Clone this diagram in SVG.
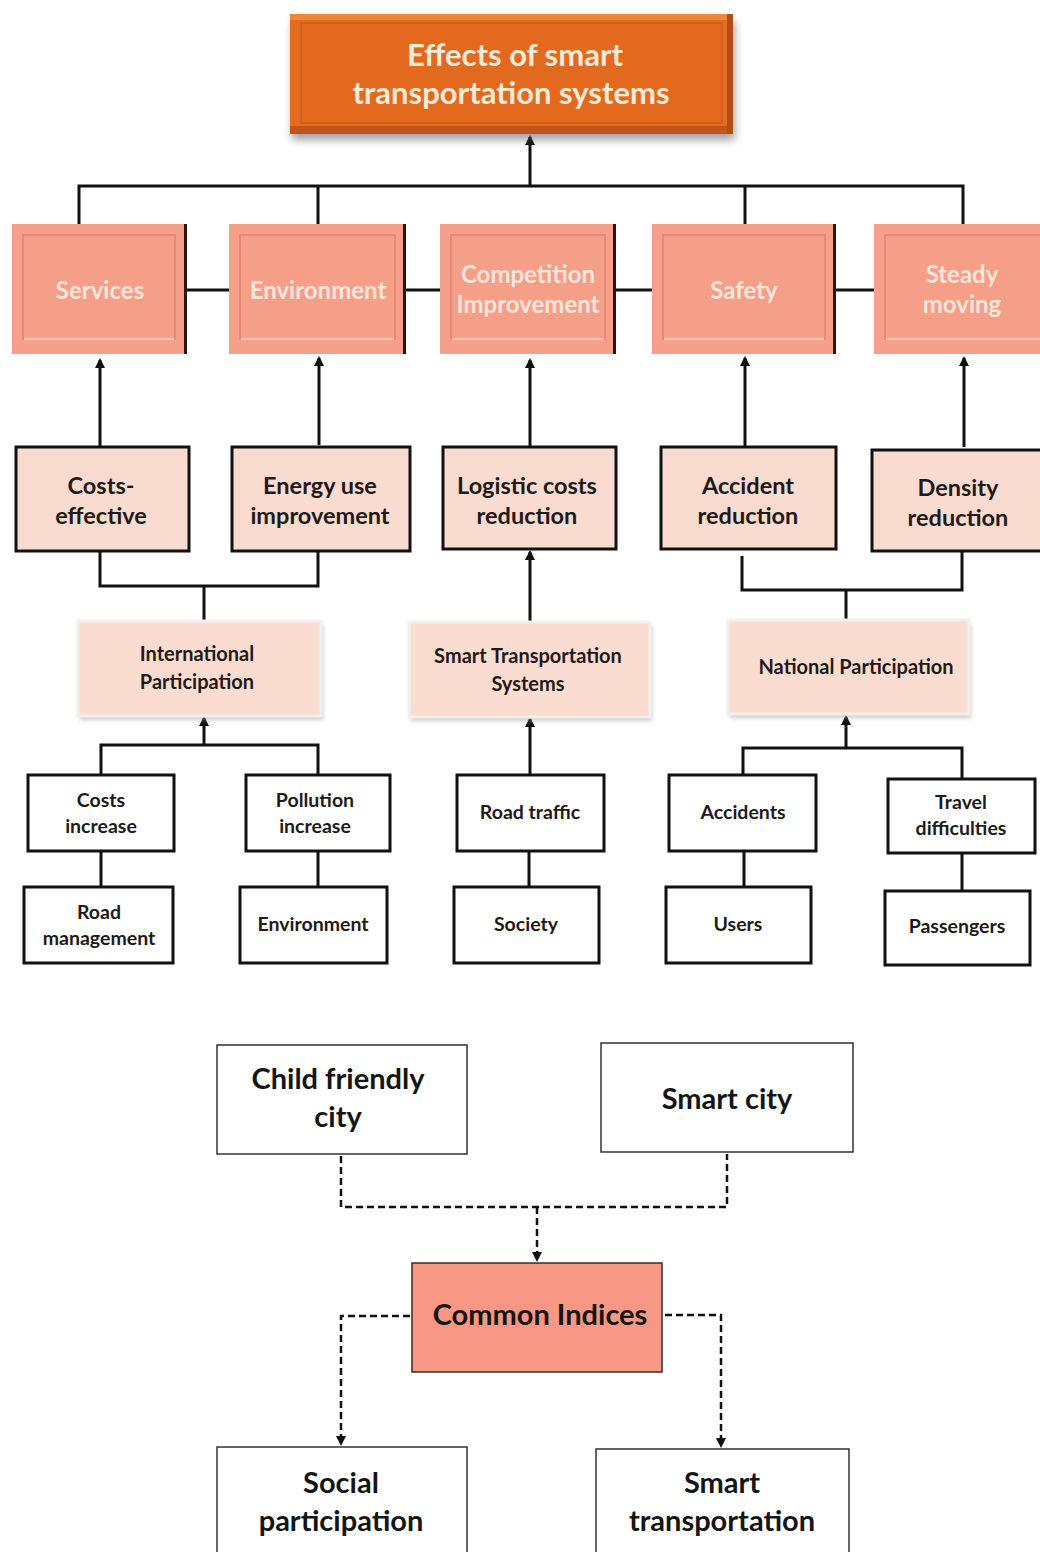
<svg xmlns="http://www.w3.org/2000/svg" width="1040" height="1552" viewBox="0 0 1040 1552">
<style>
text{font-family:Lato,"Open Sans","Liberation Sans",sans-serif;font-weight:bold;text-anchor:middle}
.t1{font-size:31px;fill:#FCEBD9}
.t2{font-size:24px;fill:#FCE6DC}
.t3{font-size:23.5px;fill:#1E1A18}
.t4{font-size:20px;fill:#1E1A18}
.t5{font-size:19.5px;fill:#1E1A18}
.t6{font-size:29px;fill:#151515}
.b2o{fill:#F6A08B}
.b2i{fill:#F59E88;stroke:#E0836D;stroke-width:1.5}
.b3{fill:#FADBCF;stroke:#111;stroke-width:3}
.b4{fill:#FADCD0;stroke:#F2F0EE;stroke-width:3}
.b5{fill:#fff;stroke:#111;stroke-width:3}
.b6{fill:#fff;stroke:#333;stroke-width:1.5}
.ln{fill:none;stroke:#111;stroke-width:3}
.ds{fill:none;stroke:#111;stroke-width:2.5;stroke-dasharray:7 4}
</style>
<defs>
<marker id="ar" markerWidth="10" markerHeight="10" refX="8" refY="5" orient="auto" markerUnits="userSpaceOnUse">
<path d="M0,0 L10,5 L0,10 Z" fill="#111"/>
</marker>
<marker id="ar2" markerWidth="10" markerHeight="10" refX="8" refY="5" orient="auto" markerUnits="userSpaceOnUse">
<path d="M0,0 L10,5 L0,10 Z" fill="#111"/>
</marker>
<filter id="sh" x="-10%" y="-20%" width="120%" height="150%">
<feGaussianBlur stdDeviation="4"/>
</filter>
<filter id="sh2" x="-10%" y="-20%" width="120%" height="140%">
<feGaussianBlur stdDeviation="2"/>
</filter>
</defs>
<rect width="1040" height="1552" fill="#fff"/>

<g id="connectors">
<path class="ln" d="M530,186 V137" marker-end="url(#ar)"/>
<path class="ln" d="M79,224 V186 H963 V224 M318,186 V224 M745,186 V224"/>
<path class="ln" d="M187,290 H229 M406,290 H440 M616,290 H652 M836,290 H874"/>
<path class="ln" d="M100,447 V360" marker-end="url(#ar)"/>
<path class="ln" d="M319,445 V358" marker-end="url(#ar)"/>
<path class="ln" d="M530,447 V360" marker-end="url(#ar)"/>
<path class="ln" d="M745,447 V358" marker-end="url(#ar)"/>
<path class="ln" d="M964,447 V358" marker-end="url(#ar)"/>
<path class="ln" d="M100,551 V586 H318 V551 M204,586 V621"/>
<path class="ln" d="M530,622 V552" marker-end="url(#ar)"/>
<path class="ln" d="M742,556 V590 H962 V551 M846,590 V621"/>
<path class="ln" d="M204,745 V718" marker-end="url(#ar)"/>
<path class="ln" d="M101,775 V745 H318 V775"/>
<path class="ln" d="M530,775 V719" marker-end="url(#ar)"/>
<path class="ln" d="M846,748 V717" marker-end="url(#ar)"/>
<path class="ln" d="M743,775 V748 H962 V779"/>
<path class="ln" d="M101,851 V887 M318,851 V887 M529,851 V887 M744,851 V887 M962,853 V891"/>
<path class="ds" d="M341,1156 V1207 H727 V1154"/>
<path class="ds" d="M537,1207 V1260" marker-end="url(#ar2)"/>
<path class="ds" d="M410,1316 H341 V1444" marker-end="url(#ar2)"/>
<path class="ds" d="M665,1315 H721 V1446" marker-end="url(#ar2)"/>
</g>

<g id="n-top">
<rect x="292" y="22" width="443" height="118" fill="#555" opacity="0.55" filter="url(#sh)"/>
<rect x="290" y="14" width="443" height="120" fill="#E46C1E"/>
<rect x="290" y="14" width="443" height="6" fill="#EE8538"/>
<rect x="290" y="126" width="443" height="8" fill="#C4551A"/>
<rect x="727" y="14" width="6" height="120" fill="#B24D18"/>
<rect x="301" y="23" width="421" height="100" fill="#E2691D" stroke="#C95C1A" stroke-width="1.5"/>
<text class="t1" x="515" y="66">Effects of smart</text>
<text class="t1" x="511" y="104">transportation systems</text>
</g>

<g id="n-services">
<rect class="b2o" x="12" y="224" width="175" height="130"/>
<rect x="184" y="224" width="3" height="130" fill="#2a1510"/>
<rect class="b2i" x="23" y="235" width="152" height="104"/>
<line x1="24" y1="339" x2="174" y2="339" stroke="#FBC3B3" stroke-width="2"/>
<text class="t2" x="100" y="299">Services</text>
</g>
<g id="n-environment">
<rect class="b2o" x="229" y="224" width="177" height="130"/>
<rect x="403" y="224" width="3" height="130" fill="#2a1510"/>
<rect class="b2i" x="240" y="235" width="155" height="104"/>
<line x1="241" y1="339" x2="394" y2="339" stroke="#FBC3B3" stroke-width="2"/>
<text class="t2" x="318" y="299">Environment</text>
</g>
<g id="n-competition">
<rect class="b2o" x="440" y="224" width="176" height="130"/>
<rect x="613" y="224" width="3" height="130" fill="#2a1510"/>
<rect class="b2i" x="451" y="235" width="154" height="104"/>
<line x1="452" y1="339" x2="604" y2="339" stroke="#FBC3B3" stroke-width="2"/>
<text class="t2" x="528" y="283">Competition</text>
<text class="t2" x="528" y="313">Improvement</text>
</g>
<g id="n-safety">
<rect class="b2o" x="652" y="224" width="184" height="130"/>
<rect x="833" y="224" width="3" height="130" fill="#2a1510"/>
<rect class="b2i" x="663" y="235" width="162" height="104"/>
<line x1="664" y1="339" x2="824" y2="339" stroke="#FBC3B3" stroke-width="2"/>
<text class="t2" x="744" y="299">Safety</text>
</g>
<g id="n-steady">
<rect class="b2o" x="874" y="224" width="166" height="130"/>
<rect class="b2i" x="885" y="235" width="160" height="104"/>
<line x1="886" y1="339" x2="1040" y2="339" stroke="#FBC3B3" stroke-width="2"/>
<text class="t2" x="962" y="283">Steady</text>
<text class="t2" x="962" y="313">moving</text>
</g>

<g id="n-costs-effective">
<rect class="b3" x="16" y="447" width="173" height="104"/>
<text class="t3" x="101" y="494">Costs-</text>
<text class="t3" x="101" y="524">effective</text>
</g>
<g id="n-energy">
<rect class="b3" x="232" y="447" width="178" height="104"/>
<text class="t3" x="320" y="494">Energy use</text>
<text class="t3" x="320" y="524">improvement</text>
</g>
<g id="n-logistic">
<rect class="b3" x="443" y="447" width="173" height="102"/>
<text class="t3" x="527" y="494">Logistic costs</text>
<text class="t3" x="527" y="524">reduction</text>
</g>
<g id="n-accident">
<rect class="b3" x="661" y="447" width="175" height="102"/>
<text class="t3" x="748" y="494">Accident</text>
<text class="t3" x="748" y="524">reduction</text>
</g>
<g id="n-density">
<rect class="b3" x="872" y="450" width="170" height="101"/>
<text class="t3" x="958" y="496">Density</text>
<text class="t3" x="958" y="526">reduction</text>
</g>

<g id="n-international">
<rect x="80" y="625" width="243" height="95" fill="#999" opacity="0.5" filter="url(#sh2)"/>
<rect class="b4" x="78" y="621" width="243" height="95"/>
<text class="t4" x="197" y="661">International</text>
<text class="t4" x="197" y="689">Participation</text>
</g>
<g id="n-sts">
<rect x="411" y="626" width="241" height="95" fill="#999" opacity="0.5" filter="url(#sh2)"/>
<rect class="b4" x="409" y="622" width="241" height="95"/>
<text class="t4" x="528" y="663">Smart Transportation</text>
<text class="t4" x="528" y="691">Systems</text>
</g>
<g id="n-national">
<rect x="730" y="624" width="241" height="94" fill="#999" opacity="0.5" filter="url(#sh2)"/>
<rect class="b4" x="728" y="620" width="241" height="94"/>
<text class="t4" x="856" y="674">National Participation</text>
</g>

<g id="n-costs-increase">
<rect class="b5" x="28" y="775" width="146" height="76"/>
<text class="t5" x="101" y="807">Costs</text>
<text class="t5" x="101" y="833">increase</text>
</g>
<g id="n-pollution">
<rect class="b5" x="246" y="775" width="144" height="76"/>
<text class="t5" x="315" y="807">Pollution</text>
<text class="t5" x="315" y="833">increase</text>
</g>
<g id="n-road-traffic">
<rect class="b5" x="457" y="775" width="147" height="76"/>
<text class="t5" x="530" y="819">Road traffic</text>
</g>
<g id="n-accidents">
<rect class="b5" x="669" y="775" width="147" height="76"/>
<text class="t5" x="743" y="819">Accidents</text>
</g>
<g id="n-travel">
<rect class="b5" x="888" y="779" width="147" height="74"/>
<text class="t5" x="961" y="809">Travel</text>
<text class="t5" x="961" y="835">difficulties</text>
</g>
<g id="n-road-management">
<rect class="b5" x="24" y="887" width="149" height="76"/>
<text class="t5" x="99" y="919">Road</text>
<text class="t5" x="99" y="945">management</text>
</g>
<g id="n-environment2">
<rect class="b5" x="240" y="887" width="147" height="76"/>
<text class="t5" x="313" y="931">Environment</text>
</g>
<g id="n-society">
<rect class="b5" x="454" y="887" width="145" height="76"/>
<text class="t5" x="526" y="931">Society</text>
</g>
<g id="n-users">
<rect class="b5" x="666" y="887" width="145" height="76"/>
<text class="t5" x="738" y="931">Users</text>
</g>
<g id="n-passengers">
<rect class="b5" x="885" y="891" width="145" height="74"/>
<text class="t5" x="957" y="933">Passengers</text>
</g>

<g id="n-child">
<rect class="b6" x="217" y="1045" width="250" height="109"/>
<text class="t6" x="338" y="1089">Child friendly</text>
<text class="t6" x="338" y="1127">city</text>
</g>
<g id="n-smartcity">
<rect class="b6" x="601" y="1043" width="252" height="109"/>
<text class="t6" x="727" y="1109">Smart city</text>
</g>
<g id="n-common">
<rect x="412" y="1263" width="250" height="109" fill="#F79784" stroke="#3a2a26" stroke-width="1.5"/>
<text class="t6" x="540" y="1325">Common Indices</text>
</g>
<g id="n-social">
<rect class="b6" x="217" y="1447" width="250" height="110"/>
<text class="t6" x="341" y="1493">Social</text>
<text class="t6" x="341" y="1531">participation</text>
</g>
<g id="n-smarttransport">
<rect class="b6" x="596" y="1449" width="253" height="110"/>
<text class="t6" x="722" y="1493">Smart</text>
<text class="t6" x="722" y="1531">transportation</text>
</g>
</svg>
